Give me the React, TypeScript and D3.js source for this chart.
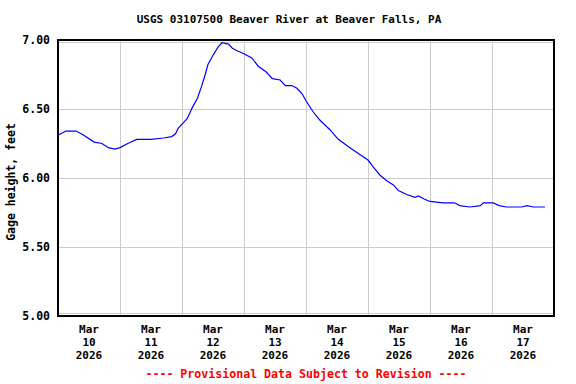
import React, { useEffect, useRef } from 'react';
import * as d3 from 'd3';

// gage height readings, local time
const readingTimes = [
  '2026-03-10 00:00', '2026-03-10 03:00', '2026-03-10 07:00', '2026-03-10 10:00', '2026-03-10 14:00',
  '2026-03-10 17:00', '2026-03-10 19:30', '2026-03-10 22:00', '2026-03-11 00:00', '2026-03-11 03:00',
  '2026-03-11 06:30', '2026-03-11 12:00', '2026-03-11 17:00', '2026-03-11 20:00', '2026-03-11 21:30',
  '2026-03-11 22:30', '2026-03-12 00:00', '2026-03-12 02:00', '2026-03-12 04:00', '2026-03-12 06:00',
  '2026-03-12 07:30', '2026-03-12 09:00', '2026-03-12 10:00', '2026-03-12 12:00', '2026-03-12 14:00',
  '2026-03-12 15:30', '2026-03-12 18:00', '2026-03-12 19:30', '2026-03-12 21:30', '2026-03-13 00:00',
  '2026-03-13 03:00', '2026-03-13 05:30', '2026-03-13 08:30', '2026-03-13 11:00', '2026-03-13 14:00',
  '2026-03-13 16:00', '2026-03-13 18:30', '2026-03-13 20:30', '2026-03-13 22:30', '2026-03-14 00:00',
  '2026-03-14 02:45', '2026-03-14 05:20', '2026-03-14 09:15', '2026-03-14 12:30', '2026-03-14 17:00',
  '2026-03-14 20:50', '2026-03-15 00:00', '2026-03-15 02:00', '2026-03-15 04:40', '2026-03-15 07:15',
  '2026-03-15 09:50', '2026-03-15 11:45', '2026-03-15 15:00', '2026-03-15 18:10', '2026-03-15 19:30',
  '2026-03-15 21:30', '2026-03-16 00:00', '2026-03-16 05:00', '2026-03-16 09:30', '2026-03-16 11:30',
  '2026-03-16 15:30', '2026-03-16 19:30', '2026-03-16 20:40', '2026-03-16 22:30', '2026-03-17 00:30',
  '2026-03-17 02:45', '2026-03-17 05:40', '2026-03-17 11:30', '2026-03-17 13:30', '2026-03-17 16:00',
  '2026-03-17 20:30',
];

const gageHeights = [
  6.31, 6.34, 6.34, 6.31, 6.26,
  6.25, 6.22, 6.21, 6.22, 6.25,
  6.28, 6.28, 6.29, 6.3, 6.32,
  6.36, 6.39, 6.43, 6.51, 6.58,
  6.66, 6.75, 6.82, 6.89, 6.95,
  6.98, 6.97, 6.94, 6.92, 6.9,
  6.87, 6.81, 6.77, 6.72, 6.71,
  6.67, 6.67, 6.65, 6.61, 6.56,
  6.48, 6.42, 6.35, 6.28, 6.22,
  6.17, 6.13, 6.08, 6.02, 5.98,
  5.95, 5.91, 5.88, 5.86, 5.87,
  5.85, 5.83, 5.82, 5.82, 5.8,
  5.79, 5.8, 5.82, 5.82, 5.82,
  5.8, 5.79, 5.79, 5.8, 5.79,
  5.79,
];

const yTicks = [5.0, 5.5, 6.0, 6.5, 7.0];
const dayTicks = ['2026-03-10', '2026-03-11', '2026-03-12', '2026-03-13', '2026-03-14', '2026-03-15', '2026-03-16', '2026-03-17', '2026-03-18'];

const title = 'USGS 03107500 Beaver River at Beaver Falls, PA';
const yLabel = 'Gage height, feet';
const footer = '---- Provisional Data Subject to Revision ----';

const App: React.FC = () => {
  const svgRef = useRef<SVGSVGElement>(null);

  useEffect(() => {
    if (!svgRef.current) return;
    const svg = d3.select(svgRef.current);
    svg.selectAll('*').remove();

    const font = "'DejaVu Sans Mono', monospace";
    const margin = { top: 40, left: 58, right: 22, bottom: 68 };
    const width = 576;
    const height = 384;

    const parseTime = d3.timeParse('%Y-%m-%d %H:%M');
    const parseDay = d3.timeParse('%Y-%m-%d');
    const days = dayTicks.map((d) => parseDay(d) as Date);
    const data = readingTimes.map((t, i) => ({ date: parseTime(t) as Date, value: gageHeights[i] }));

    const x = d3
      .scaleTime()
      .domain([days[0], days[days.length - 1]])
      .range([margin.left, width - margin.right]);
    const y = d3
      .scaleLinear()
      .domain([5, 7])
      .range([height - margin.bottom, margin.top]);

    // grid
    svg
      .append('g')
      .selectAll('line.h')
      .data(yTicks)
      .enter()
      .append('line')
      .attr('x1', margin.left)
      .attr('x2', x.range()[1])
      .attr('y1', (d) => Math.round(y(d)) + (d === 7 ? 2.5 : d === 5 ? -2.5 : 0.5))
      .attr('y2', (d) => Math.round(y(d)) + (d === 7 ? 2.5 : d === 5 ? -2.5 : 0.5))
      .attr('stroke', '#cccccc')
      .attr('stroke-width', 1);

    svg
      .append('g')
      .selectAll('line.v')
      .data(days.slice(1, -1))
      .enter()
      .append('line')
      .attr('x1', (d) => Math.round(x(d)) + 0.5)
      .attr('x2', (d) => Math.round(x(d)) + 0.5)
      .attr('y1', y.range()[1])
      .attr('y2', y.range()[0])
      .attr('stroke', '#cccccc')
      .attr('stroke-width', 1);

    // gage height line
    const line = d3
      .line<{ date: Date; value: number }>()
      .x((d) => x(d.date))
      .y((d) => y(d.value))
      .curve(d3.curveLinear);

    svg
      .append('path')
      .datum(data)
      .attr('fill', 'none')
      .attr('stroke', '#0000ff')
      .attr('stroke-width', 1.2)
      .attr('d', line);

    // plot border
    svg
      .append('rect')
      .attr('x', margin.left)
      .attr('y', margin.top)
      .attr('width', x.range()[1] - margin.left)
      .attr('height', y.range()[0] - margin.top)
      .attr('fill', 'none')
      .attr('stroke', '#000')
      .attr('stroke-width', 2);

    // y tick labels
    svg
      .append('g')
      .selectAll('text')
      .data(yTicks)
      .enter()
      .append('text')
      .attr('x', 50)
      .attr('y', (d) => y(d) + 4)
      .attr('text-anchor', 'end')
      .style('font-family', font)
      .style('font-weight', 'bold')
      .style('font-size', '11.5px')
      .text((d) => d3.format('.2f')(d));

    // x tick labels (centred on noon of each day), three lines each
    const fmtLines = [d3.timeFormat('%b'), d3.timeFormat('%d'), d3.timeFormat('%Y')];
    fmtLines.forEach((fmt, i) => {
      svg
        .append('g')
        .selectAll('text')
        .data(days.slice(0, -1))
        .enter()
        .append('text')
        .attr('x', (d) => x(d3.timeHour.offset(d, 12)))
        .attr('y', 333 + i * 13)
        .attr('text-anchor', 'middle')
        .style('font-family', font)
        .style('font-weight', 'bold')
        .style('font-size', '11px')
        .text((d) => fmt(d));
    });

    // title
    svg
      .append('text')
      .attr('x', 289)
      .attr('y', 23)
      .attr('text-anchor', 'middle')
      .style('font-family', font)
      .style('font-weight', 'bold')
      .style('font-size', '11px')
      .text(title);

    // y axis label
    svg
      .append('text')
      .attr('transform', 'translate(15,182) rotate(-90)')
      .attr('text-anchor', 'middle')
      .style('font-family', font)
      .style('font-weight', 'bold')
      .style('font-size', '11.5px')
      .text(yLabel);

    // footer
    svg
      .append('text')
      .attr('x', 306)
      .attr('y', 378)
      .attr('text-anchor', 'middle')
      .style('font-family', font)
      .style('font-weight', 'bold')
      .style('font-size', '11.6px')
      .style('fill', '#ff0000')
      .text(footer);
  }, []);

  return (
    <svg
      ref={svgRef}
      width={576}
      height={384}
      style={{ position: 'absolute', left: 0, top: 0, background: '#fff' }}
    />
  );
};

export default App;
